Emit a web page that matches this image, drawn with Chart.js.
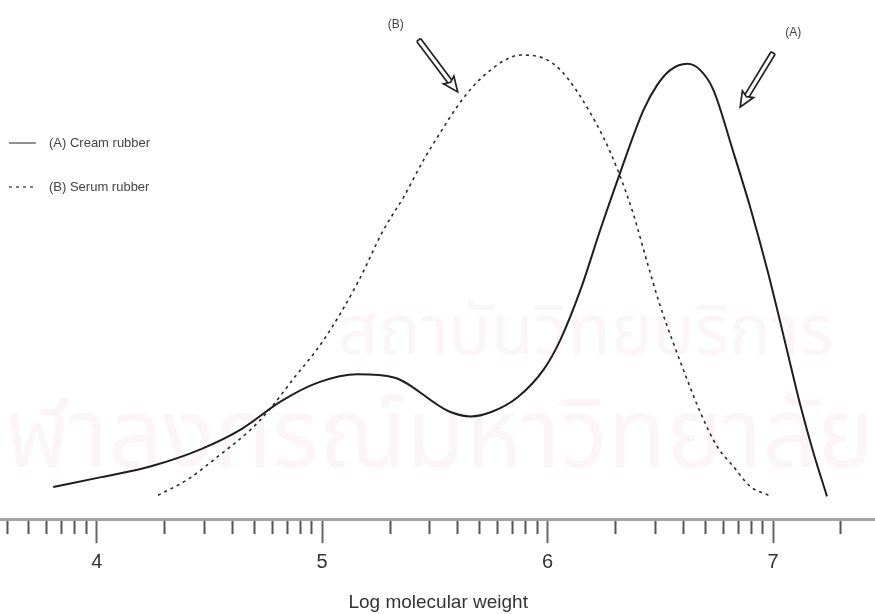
<!DOCTYPE html>
<html>
<head>
<meta charset="utf-8">
<script src="https://cdn.jsdelivr.net/npm/chart.js@4"></script>
<style>
  html, body { margin: 0; padding: 0; background: #fff; }
  canvas { display: block; }
</style>
</head>
<body>
<canvas id="myChart" width="875" height="614"></canvas>
<script>
// x = log molecular weight, y = detector response (arbitrary units)
const creamX = [3.807, 4.020, 4.241, 4.463, 4.640, 4.817, 4.981, 5.158, 5.318, 5.561, 5.659, 5.747, 5.867, 5.982,
    6.057, 6.146, 6.234, 6.314, 6.425, 6.487, 6.544, 6.620, 6.677, 6.735, 6.823, 6.899, 6.974, 7.031, 7.084, 7.120, 7.177, 7.239]
const creamY = [6.2, 8.1, 10.2, 13.5, 17.3, 22.7, 26.3, 27.9, 27.3, 20.8, 19.8, 20.6, 23.5, 28.8,
    34.6, 44.2, 55.8, 65.8, 78.8, 83.7, 86.5, 87.7, 86.5, 82.7, 70.8, 60.0, 48.1, 38.1, 28.5, 22.1, 13.1, 4.4]
const serumX = [4.272, 4.405, 4.538, 4.684, 4.760, 4.870, 5.008, 5.158, 5.273, 5.362, 5.450, 5.526, 5.601, 5.672,
    5.747, 5.822, 5.880, 5.982, 6.057, 6.132, 6.248, 6.314, 6.380, 6.442, 6.500, 6.557, 6.624, 6.677, 6.752, 6.823, 6.899, 6.979]
const serumY = [4.6, 7.7, 12.1, 17.3, 20.8, 26.9, 34.6, 45.6, 55.8, 62.1, 69.2, 74.6, 79.6, 83.5,
    86.5, 88.7, 89.4, 88.8, 86.5, 82.3, 73.5, 66.9, 58.8, 49.4, 41.0, 34.0, 26.3, 20.6, 14.0, 10.2, 6.3, 4.6]
const seriesLabels = ['(A) Cream rubber', '(B) Serum rubber']
const tickDecades = [3, 4, 5, 6, 7]
const tickLabels = ['4', '5', '6', '7']
const axisTitle = 'Log molecular weight'
const watermarkLines = ['สถาบันวิทยบริการ', 'จุฬาลงกรณ์มหาวิทยาลัย']

const ctx = document.getElementById('myChart')
const xMin = 3.577
const xMax = 7.452
const narrow = "'Liberation Sans Narrow', 'Liberation Sans', Arial, sans-serif"

const toPoints = (xs, ys) => xs.map((x, i) => ({ x: x, y: ys[i] }))

const logTicks = () => {
    const ticks = []
    tickDecades.forEach((n) => {
        for (let k = 1; k <= 9; k++) {
            const v = n + Math.log10(k)
            if (v >= xMin && v <= xMax) ticks.push({ value: v, major: k === 1 })
        }
    })
    return ticks
}

// arrows that point at the two peaks, in data units
const arrows = [
    { text: '(B)', label: [5.326, 95.2], tail: [5.428, 92.3], tip: [5.601, 82.3] },
    { text: '(A)', label: [7.089, 93.7], tail: [7.000, 89.8], tip: [6.854, 79.4] },
]

const watermark = {
    id: 'watermark',
    beforeDatasetsDraw(chart) {
        const c = chart.ctx
        c.save()
        c.fillStyle = 'rgba(230, 175, 200, 0.13)'
        c.textBaseline = 'middle'
        c.textAlign = 'left'
        c.font = "70px 'Noto Sans Thai', 'Noto Sans', sans-serif"
        c.fillText(watermarkLines[0], 338, 340)
        c.textAlign = 'right'
        c.font = "96px 'Noto Sans Thai', 'Noto Sans', sans-serif"
        c.fillText(watermarkLines[1], 874, 448)
        c.restore()
    }
}

const drawArrow = (c, x0, y0, x1, y1) => {
    const ang = Math.atan2(y1 - y0, x1 - x0)
    const len = Math.hypot(x1 - x0, y1 - y0)
    c.save()
    c.translate(x1, y1)
    c.rotate(ang)
    c.strokeStyle = '#222'
    c.lineWidth = 1.7
    const head = 15
    // double shaft
    c.beginPath()
    c.moveTo(-len, -2.4)
    c.lineTo(-head + 2, -2.4)
    c.moveTo(-len, 2.4)
    c.lineTo(-head + 2, 2.4)
    c.moveTo(-len, -2.4)
    c.lineTo(-len, 2.4)
    c.stroke()
    // hollow head
    c.beginPath()
    c.moveTo(0, 0)
    c.lineTo(-head, -6.5)
    c.lineTo(-head + 3, 0)
    c.lineTo(-head, 6.5)
    c.closePath()
    c.stroke()
    c.restore()
}

const annotations = {
    id: 'annotations',
    afterDraw(chart) {
        const c = chart.ctx
        const xs = chart.scales.x
        const ys = chart.scales.y
        c.save()
        c.font = "12px " + narrow
        c.fillStyle = '#444'
        c.textAlign = 'center'
        c.textBaseline = 'middle'
        arrows.forEach((a) => {
            c.fillText(a.text, xs.getPixelForValue(a.label[0]), ys.getPixelForValue(a.label[1]))
            drawArrow(c, xs.getPixelForValue(a.tail[0]), ys.getPixelForValue(a.tail[1]),
                xs.getPixelForValue(a.tip[0]), ys.getPixelForValue(a.tip[1]))
        })

        // legend, top left
        c.textAlign = 'left'
        c.font = "13px " + narrow
        chart.data.datasets.forEach((ds, i) => {
            const y = 143 + i * 44
            c.strokeStyle = '#555'
            c.lineWidth = 1.3
            c.setLineDash(ds.borderDash || [])
            c.beginPath()
            c.moveTo(9, y)
            c.lineTo(36, y)
            c.stroke()
            c.setLineDash([])
            c.fillText(ds.label, 49, y)
        })
        c.restore()
    }
}

const myChart = new Chart(ctx, {
    type: 'line',
    data: {
        datasets: [
            {
                label: seriesLabels[0],
                data: toPoints(creamX, creamY),
                borderColor: '#1e1e1e',
                borderWidth: 2,
                pointRadius: 0,
                cubicInterpolationMode: 'monotone',
            },
            {
                label: seriesLabels[1],
                data: toPoints(serumX, serumY),
                borderColor: '#2a2a2a',
                borderWidth: 1.6,
                borderDash: [3, 4],
                pointRadius: 0,
                cubicInterpolationMode: 'monotone',
            },
        ],
    },
    options: {
        responsive: false,
        animation: false,
        layout: { padding: 0 },
        plugins: {
            legend: { display: false },
            tooltip: { enabled: false },
        },
        scales: {
            x: {
                type: 'linear',
                min: xMin,
                max: xMax,
                afterBuildTicks: (scale) => { scale.ticks = logTicks() },
                border: { display: true, color: '#a3a3a3', width: 3 },
                grid: {
                    drawOnChartArea: false,
                    drawTicks: true,
                    tickLength: 24,
                    tickColor: (c) => c.tick && c.tick.major ? '#666' : '#555',
                    tickWidth: 2,
                    tickBorderDash: (c) => c.tick && c.tick.major ? [] : [13, 60],
                },
                ticks: {
                    autoSkip: false,
                    maxRotation: 0,
                    padding: 7,
                    color: '#333',
                    font: { family: narrow, size: 20 },
                    callback: (value, index, ticks) => {
                        const s = String(Math.round(value))
                        return ticks[index].major && tickLabels.includes(s) ? s : ''
                    },
                },
                title: {
                    display: true,
                    text: axisTitle,
                    color: '#333',
                    font: { family: narrow, size: 19 },
                    padding: { top: 10, bottom: 0 },
                },
            },
            y: {
                display: false,
                min: 0,
                max: 100,
            },
        },
    },
    plugins: [watermark, annotations],
})
</script>
</body>
</html>
